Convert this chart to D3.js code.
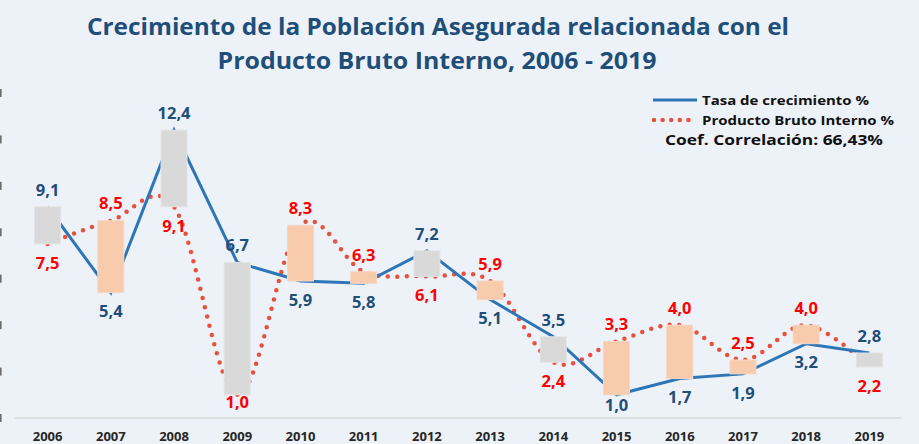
<!DOCTYPE html>
<html><head><meta charset="utf-8">
<script src="https://cdn.jsdelivr.net/npm/d3@7"></script>
<style>
html,body{margin:0;padding:0;background:#EDF2F9;}
svg{display:block;font-family:"Open Sans","Noto Sans",sans-serif;}
</style></head>
<body><svg id="c" width="919" height="444"></svg>
<script>
const years = ["2006","2007","2008","2009","2010","2011","2012","2013","2014","2015","2016","2017","2018","2019"];
const tasa = [9.1,5.4,12.4,6.7,5.9,5.8,7.2,5.1,3.5,1.0,1.7,1.9,3.2,2.8];
const pib  = [7.5,8.5,9.1,1.0,8.3,6.3,6.1,5.9,2.4,3.3,4.0,2.5,4.0,2.2];
const yTicks = [0,2,4,6,8,10,12,14];
const titleLines = ["Crecimiento de la Población Asegurada relacionada con el","Producto Bruto Interno, 2006 - 2019"];
const legendLabels = ["Tasa de crecimiento %","Producto Bruto Interno %"];
const corrText = "Coef. Correlación: 66,43%";

const fmt = v => v.toFixed(1).replace(".", ",");
const svg = d3.select("#c");
const W = 919, H = 444;
svg.append("rect").attr("width",W).attr("height",H).attr("fill","#EDF2F9");

const x = d3.scaleBand().domain(years).range([16,901]);
const y = d3.scaleLinear().domain([0,14]).range([418,93]);
const cx = d => x(d) + x.bandwidth()/2;

// y axis tick label remnants (the labels are clipped by the left edge in the original)
svg.append("g").selectAll("rect").data(yTicks).join("rect")
  .attr("x",0).attr("y",d=>y(d)-4).attr("width",1.6).attr("height",8)
  .attr("fill","#6b6b6b");

// baseline
svg.append("line").attr("x1",14).attr("x2",901).attr("y1",y(0)).attr("y2",y(0))
  .attr("stroke","#D9D9D9").attr("stroke-width",1.5);

// x axis labels
const xa = svg.append("g").attr("transform",`translate(0,${y(0)})`)
  .call(d3.axisBottom(x).tickSize(0).tickPadding(14));
xa.select(".domain").remove();
xa.selectAll("text").attr("font-size",13).attr("font-weight","bold").attr("fill","#262626").attr("font-family","Open Sans");

// lines
const lineT = d3.line().x((d,i)=>cx(years[i])).y(d=>y(d));
const lineP = d3.line().x((d,i)=>cx(years[i])).y(d=>y(d)).curve(d3.curveCatmullRom.alpha(0));
svg.append("path").datum(pib).attr("d",lineP).attr("fill","none")
  .attr("stroke","#E8503C").attr("stroke-width",4.5).attr("stroke-linecap","round")
  .attr("stroke-dasharray","0 9.5");
svg.append("path").datum(tasa).attr("d",lineT).attr("fill","none")
  .attr("stroke","#2E75B6").attr("stroke-width",3);

// up/down bars
const bw = 26;
svg.append("g").selectAll("rect").data(years).join("rect")
  .attr("x",d=>cx(d)-bw/2)
  .attr("y",(d,i)=>y(Math.max(tasa[i],pib[i])))
  .attr("width",bw)
  .attr("height",(d,i)=>Math.abs(y(tasa[i])-y(pib[i])))
  .attr("fill",(d,i)=>tasa[i]>pib[i]?"#D9D9D9":"#F8CBAD")
  .attr("stroke",(d,i)=>tasa[i]>pib[i]?"#E4E4E4":"#F4D7C6").attr("stroke-width",1);

// labels
const lab = svg.append("g").attr("font-weight","bold").attr("font-size",16.5).attr("text-anchor","middle");
years.forEach((yr,i)=>{
  const tUp = tasa[i] > pib[i];
  let tY = y(tasa[i]) + (tUp ? -17 : 19);
  let pY = y(pib[i]) + (tUp ? 19 : -17);
  if (!tUp) tY = Math.min(tY, 405); else pY = Math.min(pY, 402);
  lab.append("text").attr("x",cx(yr)).attr("y",tY).attr("dy","0.35em").attr("fill","#1F4E79").text(fmt(tasa[i]));
  lab.append("text").attr("x",cx(yr)).attr("y",pY).attr("dy","0.35em").attr("fill","#FF0000").text(fmt(pib[i]));
});

// title
const tl = svg.append("g").attr("font-weight","bold").attr("font-size",24).attr("fill","#1F4E79").attr("text-anchor","middle");
tl.append("text").attr("x",438).attr("y",35).attr("textLength",702).attr("lengthAdjust","spacingAndGlyphs").text(titleLines[0]);
tl.append("text").attr("x",437).attr("y",69).attr("textLength",439).attr("lengthAdjust","spacingAndGlyphs").text(titleLines[1]);

// legend
const lg = svg.append("g").attr("font-weight","bold").attr("fill","#111");
lg.append("line").attr("x1",653).attr("x2",697).attr("y1",100).attr("y2",100).attr("stroke","#2E75B6").attr("stroke-width",3);
lg.append("line").attr("x1",654).attr("x2",697).attr("y1",120).attr("y2",120).attr("stroke","#E8503C")
  .attr("stroke-width",4.5).attr("stroke-linecap","round").attr("stroke-dasharray","0 8.6");
lg.append("text").attr("x",702).attr("y",105).attr("font-size",13).attr("textLength",167).attr("lengthAdjust","spacingAndGlyphs").text(legendLabels[0]);
lg.append("text").attr("x",702).attr("y",125).attr("font-size",13).attr("textLength",192).attr("lengthAdjust","spacingAndGlyphs").text(legendLabels[1]);
lg.append("text").attr("x",665).attr("y",145).attr("font-size",15).attr("textLength",218).attr("lengthAdjust","spacingAndGlyphs").text(corrText);
</script></body></html>
